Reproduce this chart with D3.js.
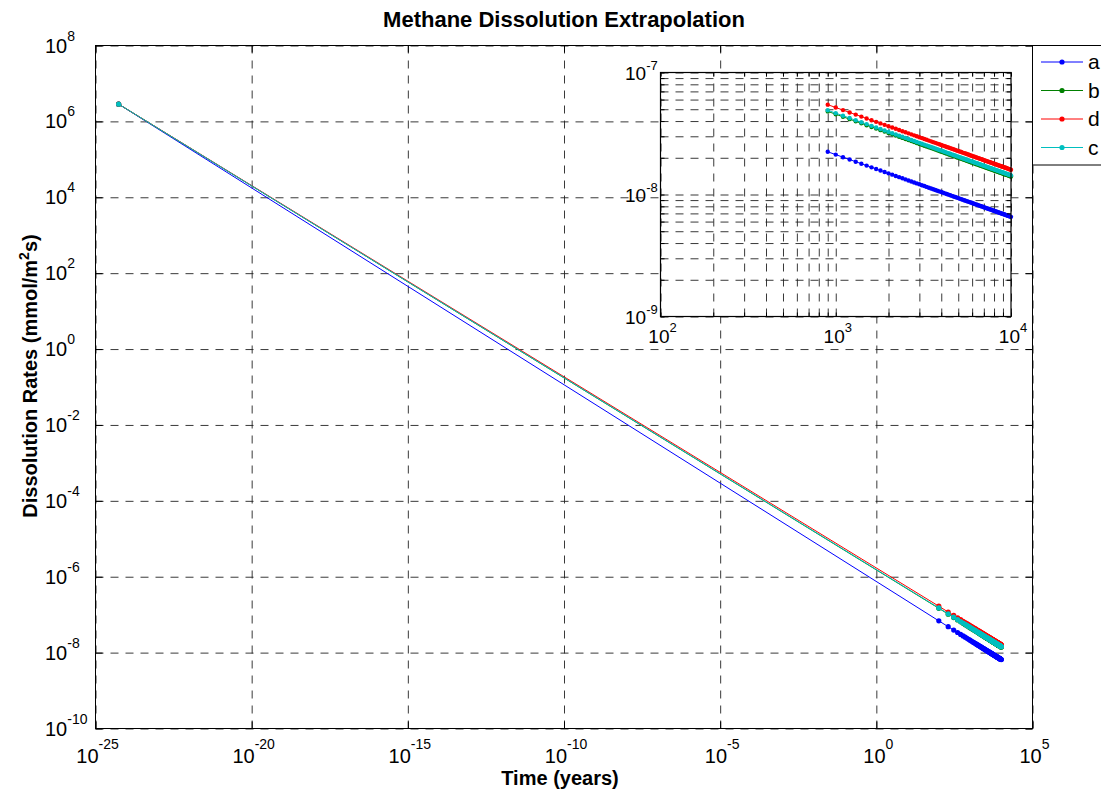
<!DOCTYPE html>
<html><head><meta charset="utf-8">
<script src="https://cdn.jsdelivr.net/npm/d3@7"></script>
<style>
body{margin:0;background:#fff;}
svg{display:block;}
text{font-family:"Liberation Sans",Arial,Helvetica,sans-serif;fill:#000;}
</style>
</head><body>
<svg id="chart" width="1101" height="792"></svg>
<script>
// ---------------- data ----------------
const chartTitle = "Methane Dissolution Extrapolation";
const xAxisTitle = "Time (years)";
const seriesNames = ["a", "b", "d", "c"];
const seriesColors = ["#0000ff", "#008000", "#ff0000", "#00bfbf"];

// first (extrapolated) point shared by all series
const startTime = 5.5e-25;          // years
const startRate = 2.85e6;           // mmol/m^2 s

// rates are given in units of 1e-8 mmol/m^2 s
const RATE_UNIT = 1e-8;

// early samples (shown in the main axes only)
const earlyTimes = [100,200,300,400,500,600,700,800];
const earlyA = [6.870,4.823,3.922,3.387,3.024,2.755,2.547,2.379];
const earlyB = [14.72,10.33,8.405,7.258,6.480,5.904,5.458,5.098];
const earlyD = [16.72,11.73,9.543,8.240,7.358,6.704,6.197,5.788];
const earlyC = [15.03,10.55,8.580,7.409,6.615,6.027,5.571,5.204];

// late samples (main axes and inset)
const lateTimes = [900,1000,1100,1200,1300,1400,1500,1600,1700,1800,1900,2000,
  2100,2200,2300,2400,2500,2600,2700,2800,2900,3000,3100,3200,3300,3400,3500,
  3600,3700,3800,3900,4000,4100,4200,4300,4400,4500,4600,4700,4800,4900,5000,
  5100,5200,5300,5400,5500,5600,5700,5800,5900,6000,6100,6200,6300,6400,6500,
  6600,6700,6800,6900,7000,7100,7200,7300,7400,7500,7600,7700,7800,7900,8000,
  8100,8200,8300,8400,8500,8600,8700,8800,8900,9000,9100,9200,9300,9400,9500,
  9600,9700,9800,9900,10000];
const ratesA = [2.24,2.123,2.022,1.934,1.857,1.788,1.726,1.670,1.619,1.573,1.530,1.490,
  1.454,1.419,1.388,1.358,1.330,1.303,1.279,1.255,1.233,1.212,1.192,1.173,1.154,1.137,1.120,
  1.104,1.089,1.074,1.060,1.047,1.034,1.021,1.009,0.997,0.986,0.975,0.964,0.954,0.944,0.934,
  0.925,0.916,0.907,0.898,0.890,0.882,0.874,0.866,0.859,0.851,0.844,0.837,0.830,0.824,0.817,
  0.811,0.805,0.799,0.793,0.787,0.781,0.776,0.770,0.765,0.760,0.755,0.750,0.745,0.740,0.735,
  0.730,0.726,0.722,0.717,0.713,0.709,0.704,0.700,0.696,0.692,0.688,0.685,0.681,0.677,0.673,
  0.670,0.666,0.663,0.659,0.656];
const ratesB = [4.80,4.549,4.333,4.145,3.979,3.832,3.698,3.578,3.469,3.370,3.278,3.193,
  3.115,3.042,2.974,2.910,2.850,2.793,2.740,2.689,2.642,2.597,2.554,2.513,2.474,2.436,2.400,
  2.366,2.334,2.302,2.272,2.243,2.215,2.188,2.161,2.136,2.112,2.088,2.066,2.044,2.022,2.002,
  1.981,1.962,1.943,1.925,1.907,1.889,1.872,1.856,1.840,1.824,1.809,1.794,1.779,1.765,1.751,
  1.738,1.724,1.711,1.699,1.686,1.674,1.662,1.651,1.639,1.628,1.617,1.606,1.596,1.585,1.575,
  1.565,1.556,1.546,1.536,1.527,1.518,1.510,1.501,1.492,1.483,1.475,1.467,1.459,1.451,1.443,
  1.435,1.428,1.420,1.413,1.405];
const ratesD = [5.45,5.165,4.920,4.707,4.518,4.351,4.199,4.063,3.939,3.826,3.722,3.626,
  3.537,3.454,3.376,3.304,3.236,3.171,3.111,3.054,3.000,2.948,2.899,2.853,2.809,2.766,2.726,
  2.687,2.650,2.614,2.579,2.546,2.515,2.484,2.454,2.426,2.398,2.371,2.346,2.321,2.296,2.273,
  2.250,2.228,2.206,2.185,2.165,2.145,2.126,2.107,2.089,2.071,2.054,2.037,2.020,2.004,1.988,
  1.973,1.958,1.943,1.929,1.915,1.901,1.887,1.874,1.861,1.849,1.836,1.824,1.812,1.800,1.789,
  1.777,1.766,1.755,1.745,1.734,1.724,1.714,1.704,1.694,1.684,1.675,1.666,1.656,1.647,1.638,
  1.630,1.621,1.612,1.604,1.596];
const ratesC = [4.90,4.644,4.423,4.232,4.062,3.912,3.775,3.653,3.542,3.440,3.347,3.260,
  3.180,3.105,3.036,2.970,2.909,2.851,2.797,2.745,2.697,2.651,2.607,2.565,2.525,2.487,2.450,
  2.416,2.382,2.350,2.319,2.289,2.261,2.233,2.206,2.181,2.156,2.132,2.109,2.086,2.064,2.043,
  2.023,2.003,1.984,1.965,1.946,1.929,1.911,1.894,1.878,1.862,1.846,1.831,1.816,1.802,1.788,
  1.774,1.760,1.747,1.734,1.721,1.709,1.697,1.685,1.673,1.662,1.651,1.640,1.629,1.618,1.608,
  1.598,1.588,1.578,1.568,1.559,1.550,1.541,1.532,1.523,1.514,1.506,1.497,1.489,1.481,1.473,
  1.465,1.457,1.449,1.442,1.435];
const seriesEarly = [earlyA, earlyB, earlyD, earlyC];
const seriesLate = [ratesA, ratesB, ratesD, ratesC];

// tick labels (exponents of 10)
const mainXTickExps = ["-25","-20","-15","-10","-5","0","5"];
const mainYTickExps = ["8","6","4","2","0","-2","-4","-6","-8","-10"];
const insetXTickExps = ["2","3","4"];
const insetYTickExps = ["-7","-8","-9"];

// ---------------- build ----------------
const series = seriesNames.map((n, i) => {
  const early = earlyTimes.map((t, j) => ({t, v: seriesEarly[i][j] * RATE_UNIT}));
  const late = lateTimes.map((t, j) => ({t, v: seriesLate[i][j] * RATE_UNIT}));
  return {name: n, color: seriesColors[i], all: [{t: startTime, v: startRate}].concat(early, late), late};
});

const svg = d3.select("#chart");
const FONT = '"Liberation Sans", Arial, Helvetica, sans-serif';

const M = {left: 95.5, right: 1032.5, top: 45.5, bottom: 728.5};
const x = d3.scaleLog().domain([1e-25, 1e5]).range([M.left, M.right]);
const y = d3.scaleLog().domain([1e-10, 1e8]).range([M.bottom, M.top]);
const xTickVals = mainXTickExps.map(e => Math.pow(10, +e));
const yTickVals = mainYTickExps.map(e => Math.pow(10, +e));

function styleGrid(g) {
  g.select(".domain").remove();
  g.selectAll(".tick line").attr("stroke", "#222").attr("stroke-width", 0.9).attr("stroke-dasharray", "8,7");
}
// main grid
svg.append("g").attr("transform", `translate(0,${M.bottom})`)
  .call(d3.axisBottom(x).tickValues(xTickVals).tickSize(-(M.bottom - M.top)).tickFormat(""))
  .call(styleGrid);
svg.append("g").attr("transform", `translate(${M.left},0)`)
  .call(d3.axisLeft(y).tickValues(yTickVals).tickSize(-(M.right - M.left)).tickFormat(""))
  .call(styleGrid);

// data drawing
function drawSeries(g, xs, ys, key, r) {
  const line = d3.line().x(d => xs(d.t)).y(d => ys(d.v));
  series.forEach(s => {
    const sg = g.append("g");
    sg.append("path").attr("d", line(s[key])).attr("fill", "none").attr("stroke", s.color).attr("stroke-width", 1);
    sg.selectAll("circle").data(s[key]).join("circle")
      .attr("cx", d => xs(d.t)).attr("cy", d => ys(d.v)).attr("r", r).attr("fill", s.color);
  });
}
drawSeries(svg.append("g"), x, y, "all", 2.6);

// frame + inward ticks
function tickAxis(axisFn, scale, vals, len, transform) {
  return svg.append("g").attr("transform", transform)
    .call(axisFn(scale).tickValues(vals).tickSizeInner(-len).tickSizeOuter(0).tickFormat(""))
    .call(g => g.select(".domain").remove())
    .call(g => g.selectAll(".tick line").attr("stroke", "#000"));
}
tickAxis(d3.axisBottom, x, xTickVals, 7, `translate(0,${M.bottom})`);
tickAxis(d3.axisTop, x, xTickVals, 7, `translate(0,${M.top})`);
tickAxis(d3.axisLeft, y, yTickVals, 7, `translate(${M.left},0)`);
tickAxis(d3.axisRight, y, yTickVals, 7, `translate(${M.right},0)`);
svg.append("rect").attr("x", M.left).attr("y", M.top).attr("width", M.right - M.left).attr("height", M.bottom - M.top)
  .attr("fill", "none").attr("stroke", "#000").attr("stroke-width", 1);

// tick labels
function powLabel(g, exp, size, supSize, supDy) {
  const t = g.append("text").attr("font-family", FONT).attr("font-size", size);
  t.append("tspan").text("10");
  t.append("tspan").attr("dy", supDy).attr("font-size", supSize).text(exp);
  return t;
}
mainXTickExps.forEach((e, i) => {
  const g = svg.append("g").attr("transform", `translate(${x(xTickVals[i])},762.5)`);
  powLabel(g, e, 20, 14, -14).attr("text-anchor", "middle").attr("x", 2);
});
mainYTickExps.forEach((e, i) => {
  const g = svg.append("g").attr("transform", `translate(45,${y(yTickVals[i]) + 7})`);
  powLabel(g, e, 20, 14, -12).attr("text-anchor", "start");
});

// ---------------- inset ----------------
const I = {left: 660.5, right: 1011, top: 72.5, bottom: 316.5};
const xi = d3.scaleLog().domain([1e2, 1e4]).range([I.left, I.right]);
const yi = d3.scaleLog().domain([1e-9, 1e-7]).range([I.bottom, I.top]);
svg.append("rect").attr("x", I.left).attr("y", I.top).attr("width", I.right - I.left).attr("height", I.bottom - I.top)
  .attr("fill", "#fff");
svg.append("g").attr("transform", `translate(0,${I.bottom})`)
  .call(d3.axisBottom(xi).tickValues(xi.ticks()).tickSize(-(I.bottom - I.top)).tickFormat(""))
  .call(styleGrid);
svg.append("g").attr("transform", `translate(${I.left},0)`)
  .call(d3.axisLeft(yi).tickValues(yi.ticks()).tickSize(-(I.right - I.left)).tickFormat(""))
  .call(styleGrid);
drawSeries(svg.append("g"), xi, yi, "late", 2.2);
tickAxis(d3.axisBottom, xi, xi.ticks(), 4, `translate(0,${I.bottom})`);
tickAxis(d3.axisTop, xi, xi.ticks(), 4, `translate(0,${I.top})`);
tickAxis(d3.axisLeft, yi, yi.ticks(), 4, `translate(${I.left},0)`);
tickAxis(d3.axisRight, yi, yi.ticks(), 4, `translate(${I.right},0)`);
svg.append("rect").attr("x", I.left).attr("y", I.top).attr("width", I.right - I.left).attr("height", I.bottom - I.top)
  .attr("fill", "none").attr("stroke", "#000").attr("stroke-width", 1.2);
insetXTickExps.forEach(e => {
  const g = svg.append("g").attr("transform", `translate(${xi(Math.pow(10, +e))},343)`);
  powLabel(g, e, 19, 13, -11).attr("text-anchor", "middle").attr("x", 2);
});
insetYTickExps.forEach(e => {
  const g = svg.append("g").attr("transform", `translate(625,${yi(Math.pow(10, +e)) + 7})`);
  powLabel(g, e, 19, 13, -10).attr("text-anchor", "start");
});

// ---------------- legend ----------------
const L = {left: 1032.5, top: 45.5, bottom: 165};
svg.append("rect").attr("x", L.left).attr("y", L.top).attr("width", 120).attr("height", L.bottom - L.top)
  .attr("fill", "#fff").attr("stroke", "#000").attr("stroke-width", 1);
series.forEach((s, i) => {
  const ry = 62 + i * 28.5;
  const g = svg.append("g");
  g.append("line").attr("x1", 1041).attr("x2", 1083).attr("y1", ry).attr("y2", ry).attr("stroke", s.color).attr("stroke-width", 1);
  g.append("circle").attr("cx", 1062).attr("cy", ry).attr("r", 2.6).attr("fill", s.color);
  g.append("text").attr("x", 1088).attr("y", ry + 7).attr("font-family", FONT).attr("font-size", 21).text(s.name);
});

// ---------------- titles ----------------
svg.append("text").attr("x", 564).attr("y", 27).attr("text-anchor", "middle")
  .attr("font-family", FONT).attr("font-size", 22).attr("font-weight", "bold").text(chartTitle);
svg.append("text").attr("x", 560).attr("y", 785).attr("text-anchor", "middle")
  .attr("font-family", FONT).attr("font-size", 20).attr("font-weight", "bold").text(xAxisTitle);
const yl = svg.append("text").attr("transform", "translate(37,376) rotate(-90)").attr("text-anchor", "middle")
  .attr("font-family", FONT).attr("font-size", 20).attr("font-weight", "bold");
yl.append("tspan").text("Dissolution Rates (mmol/m");
yl.append("tspan").attr("dy", -8).attr("font-size", 14).text("2");
yl.append("tspan").attr("dy", 8).text("s)");
</script>
</body></html>
